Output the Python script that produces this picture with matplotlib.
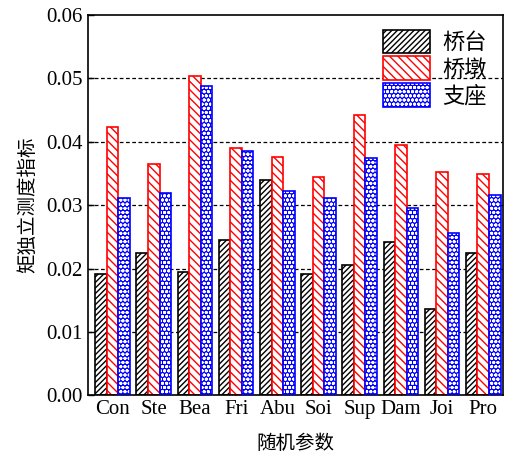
import numpy as np
import matplotlib.pyplot as plt
from matplotlib.legend_handler import HandlerTuple

plt.rcParams['font.family'] = ['Liberation Serif', 'Noto Sans CJK SC']
plt.rcParams['hatch.linewidth'] = 1.0

# values
params = ['Con', 'Ste', 'Bea', 'Fri', 'Abu', 'Soi', 'Sup', 'Dam', 'Joi', 'Pro']
abutment = [0.0191, 0.0224, 0.0195, 0.0245, 0.0339, 0.0192, 0.0206, 0.0242, 0.0136, 0.0225]
pier = [0.0423, 0.0365, 0.0504, 0.0390, 0.0376, 0.0345, 0.0442, 0.0395, 0.0352, 0.0350]
bearing = [0.0312, 0.0319, 0.0488, 0.0385, 0.0323, 0.0311, 0.0374, 0.0295, 0.0256, 0.0316]

x = np.arange(len(params))
w = 0.28

fig = plt.figure(figsize=(5.05, 4.59), dpi=100)
ax = fig.add_axes([0.174, 0.139, 0.822, 0.828])

for y in [0.01, 0.02, 0.03, 0.04, 0.05]:
    ax.axhline(y, color='black', linestyle=(0, (3, 2)), linewidth=0.9, zorder=0)

b1 = ax.bar(x - w, abutment, w, facecolor='white', edgecolor='black',
            hatch='//////', linewidth=1.2, zorder=2)
b2 = ax.bar(x, pier, w, facecolor='white', edgecolor='red',
            hatch='\\\\\\\\', linewidth=1.2, zorder=2)
b3 = ax.bar(x + w, bearing, w, facecolor='blue', edgecolor='white',
            hatch='oooo', linewidth=0, zorder=2)
b3e = ax.bar(x + w, bearing, w, fill=False, edgecolor='blue', linewidth=1.2, zorder=3)

ax.set_xlim(-0.6, 9.48)
ax.set_ylim(0, 0.06)
ax.set_yticks([0.0, 0.01, 0.02, 0.03, 0.04, 0.05, 0.06])
ax.set_yticklabels(['0.00', '0.01', '0.02', '0.03', '0.04', '0.05', '0.06'])
ax.set_xticks(x)
ax.set_xticklabels(params)
ax.tick_params(direction='in', labelsize=15, length=4, width=1)
for s in ax.spines.values():
    s.set_linewidth(1.2)

ax.set_xlabel('随机参数', fontsize=14, family=['Noto Sans CJK SC'], labelpad=10)
ax.set_ylabel('矩独立测度指标', fontsize=14, family=['Noto Sans CJK SC'], labelpad=6)

ax.legend([b1[0], b2[0], (b3[0], b3e[0])], ['桥台', '桥墩', '支座'], loc='upper right',
          frameon=False, prop={'family': 'Noto Sans CJK SC', 'size': 16},
          handler_map={tuple: HandlerTuple(ndivide=1, pad=0)},
          handlelength=2.1, handleheight=1.25, labelspacing=0.12, handletextpad=0.55,
          borderpad=0.2, bbox_to_anchor=(0.998, 1.003))

fig.savefig('out.png', dpi=100)
